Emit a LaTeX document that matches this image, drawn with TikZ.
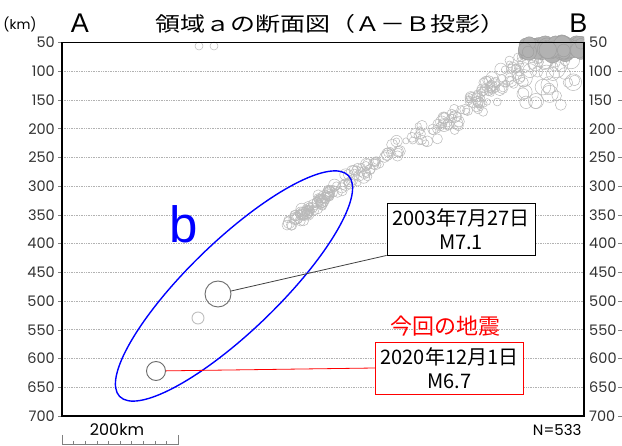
\documentclass[tikz,border=0pt]{standalone}
\usepackage{fontspec}
\setmainfont{Liberation Sans}
\newfontfamily\numfont{Poppins}
\newfontfamily\jpfont{Noto Sans CJK JP}
\newfontfamily\jpwide[FakeStretch=1.25]{Noto Sans CJK JP}
\tikzset{
  hypo/.style={draw=gray!55, line width=0.5pt},
  hypofill/.style={draw=gray!75, fill=gray!60, line width=0.5pt},
  gridline/.style={gray!60, densely dotted, line width=0.7pt},
  depthlabel/.style={font=\numfont\fontsize{14.5}{14.5}\selectfont, text=black!80, inner sep=0pt},
  quake/.style={circle, draw=gray!85!black, line width=0.9pt, inner sep=0pt},
  eventbox/.style={draw, line width=0.9pt, fill=white, align=center, inner sep=1pt,
    font=\jpfont\fontsize{20}{24}\selectfont, minimum width=148pt, minimum height=52pt},
}
\begin{document}
\begin{tikzpicture}[x=1pt, y=-1pt]
        \fill[white] (0,0) rectangle (622,446);
        \useasboundingbox (0,0) rectangle (622,446);
        % depth axis
        \foreach \d in {50,100,...,700}{
          \pgfmathsetmacro\yy{42.5+(\d-50)*0.5746}
          \node (l\d) [depthlabel, anchor=east] at (55,\yy) {\d};
          \node (r\d) [depthlabel, anchor=west] at (589,\yy) {\d};
          \draw[gray] (58,\yy) -- (62,\yy);
        }
        \foreach \d in {100,150,...,700}{
          \pgfmathsetmacro\yy{42.5+(\d-50)*0.5746}
          \draw[gray] (618,\yy) -- (622,\yy);
        }
        \foreach \d in {100,150,...,650}{
          \pgfmathsetmacro\yy{42.5+(\d-50)*0.5746}
          \draw[gridline] (62,\yy) -- (584,\yy);
        }
        % hypocenters
        \begin{scope}
          \clip (62,30) rectangle (584,417);
          \pgfmathsetseed{27}
          \foreach \xa/\ya/\xb/\yb/\s/\n in {290/223/342/186/5/80, 342/186/405/145/7/45,
              405/145/470/110/9/45, 470/110/528/60/12/80}{
            \foreach \i in {1,...,\n}{
              \pgfmathsetmacro\t{rnd}
              \pgfmathsetmacro\px{\xa+(\xb-\xa)*\t+\s*rand}
              \pgfmathsetmacro\py{\ya+(\yb-\ya)*\t+\s*rand}
              \pgfmathsetmacro\rr{3+3*rnd}
              \draw[hypo] (\px,\py) circle (\rr pt);
            }
          }
          \foreach \i in {1,...,30}{
            \pgfmathsetmacro\px{522+55*rnd}
            \pgfmathsetmacro\py{60+45*rnd}
            \pgfmathsetmacro\rr{4+5*rnd}
            \draw[hypo] (\px,\py) circle (\rr pt);
          }
          \foreach \i in {1,...,80}{
            \pgfmathsetmacro\px{524+58*rnd}
            \pgfmathsetmacro\py{43+11*rnd}
            \pgfmathsetmacro\rr{5+4*rnd}
            \draw[hypofill] (\px,\py) circle (\rr pt);
          }
          \draw[hypo] (199,46) circle (4pt);
          \draw[hypo] (214,46) circle (4pt);
        \end{scope}
        \draw[line width=1.6pt] (62,42.5) rectangle (584,416);
        % titles
        \node (km) [font=\numfont\fontsize{13.5}{13.5}\selectfont] at (20,24) {(km)};
        \node (ptA) [font=\fontsize{27}{27}\selectfont] at (80,23) {A};
        \node (ptB) [font=\fontsize{27}{27}\selectfont] at (578.5,23) {B};
        \node (ttl) [font=\jpwide\fontsize{20}{20}\selectfont] at (330.5,24) {領域ａの断面図（Ａ－Ｂ投影）};
        % slab b
        \draw[blue, line width=1.4pt, rotate around={44:(234,286)}] (234,286) ellipse (159pt and 45pt);
        \node (slabb) [text=blue, font=\fontsize{51}{51}\selectfont] at (184,224) {b};
        % events
        \node (eq2003) [quake, minimum size=26pt] at (218,294) {};
        \node (eqsmall) [quake, draw=gray!50, minimum size=12pt] at (198,318) {};
        \node (eq2020) [quake, minimum size=19pt] at (156,371) {};
        \node (box2003) [eventbox] at (461,229) {2003年7月27日\\M7.1};
        \node (box2020) [eventbox, draw=red] at (449.5,368) {2020年12月1日\\M6.7};
        \node (konkai) [text=red, font=\jpfont\fontsize{22}{22}\selectfont] at (445,326) {今回の地震};
        \draw[black!75, line width=0.8pt] (eq2003) -- (box2003.south west);
        \draw[red, line width=0.8pt] (eq2020) -- (box2020.west);
        % scale bar
        \draw[gray] (62,435) -- (62,444) -- (178,444) -- (178,435);
        \foreach \i in {1,...,9}
          \draw[gray] (62+\i*11.6,441) -- (62+\i*11.6,444);
        \node (scalekm) [font=\numfont\fontsize{16}{16}\selectfont] at (117,430) {200km};
        \node (count) [anchor=east, font=\numfont\fontsize{15}{15}\selectfont] at (585,430) {N=533};
\end{tikzpicture}
\end{document}
